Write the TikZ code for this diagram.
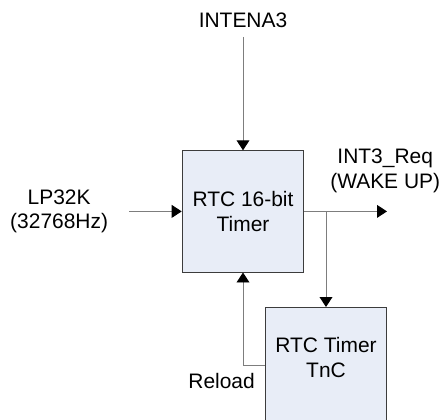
\documentclass[tikz,border=0pt]{standalone}
\usepackage{fontspec}
\setmainfont{Liberation Sans}
\usetikzlibrary{arrows.meta,positioning}
\definecolor{boxfill}{RGB}{232,237,247}
\definecolor{boxline}{RGB}{60,60,60}
\definecolor{wire}{RGB}{125,125,125}
\begin{document}
\begin{tikzpicture}[font=\fontsize{14.9}{17.7}\selectfont,
    blk/.style={draw=boxline,fill=boxfill,line width=0.7pt,minimum width=3.04cm},
    conn/.style={draw=wire,line width=0.7pt,-{Triangle[color=black,length=0.25cm,width=0.32cm]}}]
    \useasboundingbox (0,0) rectangle (11.125,10.475);
    % blocks
    \node [blk,minimum height=3.03cm,align=center] (rtc) at (6.075,5.19) {RTC 16-bit\\Timer};
    \node [blk,minimum height=2.9cm,anchor=north] (tnc) at (8.15,2.8) {};
    \node [align=center] (tnctxt) at (8.15,1.54) {RTC Timer\\TnC};
    % inputs and outputs
    \coordinate (intena) at (6.075,9.55);
    \node (intenatxt) at (6.075,9.975) {INTENA3};
    \coordinate (lpin) at (3.225,5.19);
    \node [align=center,left=0.4cm of lpin] (lp) {LP32K\\(32768Hz)};
    \coordinate (intout) at (9.675,5.19);
    \coordinate (br) at (8.15,5.19);
    \node [align=center] (req) at (9.63,6.2) {INT3\_Req\\(WAKE UP)};
    \node (reload) at (5.54,0.96) {Reload};
    % connectors
    \draw [conn] (intena) -- (rtc.north);
    \draw [conn] (lpin) -- (rtc.west);
    \draw [conn] (rtc.east) -- (intout);
    \draw [conn] (br) -- (tnc.north);
    \draw [conn] (tnc.west) -| (rtc.south);
\end{tikzpicture}
\end{document}
